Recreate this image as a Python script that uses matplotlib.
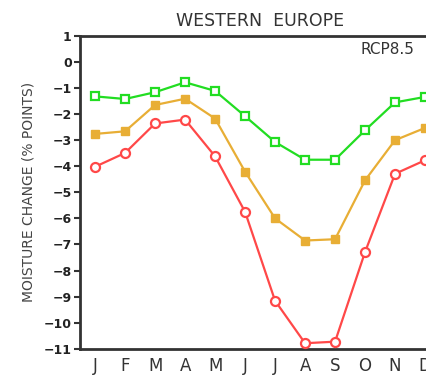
import matplotlib
matplotlib.use("Agg")
import matplotlib.pyplot as plt
import numpy as np

# monthly soil moisture change, western europe, RCP8.5
months = ["J", "F", "M", "A", "M", "J", "J", "A", "S", "O", "N", "D"]
green_vals = [-1.32, -1.42, -1.16, -0.78, -1.11, -2.08, -3.07, -3.75, -3.75, -2.62, -1.55, -1.34]
orange_vals = [-2.76, -2.66, -1.65, -1.41, -2.17, -4.21, -6.00, -6.85, -6.80, -4.54, -3.00, -2.53]
red_vals = [-4.02, -3.49, -2.36, -2.21, -3.62, -5.75, -9.16, -10.79, -10.73, -7.29, -4.29, -3.77]
yticks = list(range(-11, 2))

fig = plt.figure(figsize=(4.26, 3.78), dpi=100)
# axes run past the right edge of the figure
ax = fig.add_axes([0.188, 0.0775, 0.845, 0.8275])

x = np.arange(len(months))
ax.plot(x, green_vals, color="#22dd22", lw=1.6, marker="s", ms=6,
        mfc="white", mec="#22dd22", mew=1.6, zorder=3)
ax.plot(x, orange_vals, color="#e8ae35", lw=1.6, marker="s", ms=5.5,
        mfc="#e8ae35", mec="#e8ae35", zorder=3)
ax.plot(x, red_vals, color="#ff4848", lw=1.6, marker="o", ms=6.5,
        mfc="white", mec="#ff4848", mew=1.6, zorder=3)

ax.set_xlim(-0.5, 11.5)
ax.set_ylim(-11, 1)
ax.set_yticks(yticks)
ax.set_yticklabels([("\u2212" + str(-v)) if v < 0 else str(v) for v in yticks],
                   fontsize=9, fontweight="bold", color="#222222")
ax.set_xticks(x)
ax.set_xticklabels(months, fontsize=12, color="#333333")
ax.tick_params(axis="x", length=0, pad=6)
ax.tick_params(axis="y", direction="out", length=4, width=1.5, color="#333333", pad=2)

for side in ["left", "top", "bottom"]:
    ax.spines[side].set_linewidth(2)
    ax.spines[side].set_color("#333333")
ax.spines["right"].set_visible(False)

ax.set_title("WESTERN  EUROPE", fontsize=12.5, color="#333333", pad=7)
ax.text(0.778, 0.955, "RCP8.5", transform=ax.transAxes, fontsize=11,
        color="#333333", ha="left", va="center")
ax.set_ylabel("MOISTURE CHANGE (% POINTS)", fontsize=10, color="#444444", labelpad=6)

fig.savefig("out.png", dpi=100)
